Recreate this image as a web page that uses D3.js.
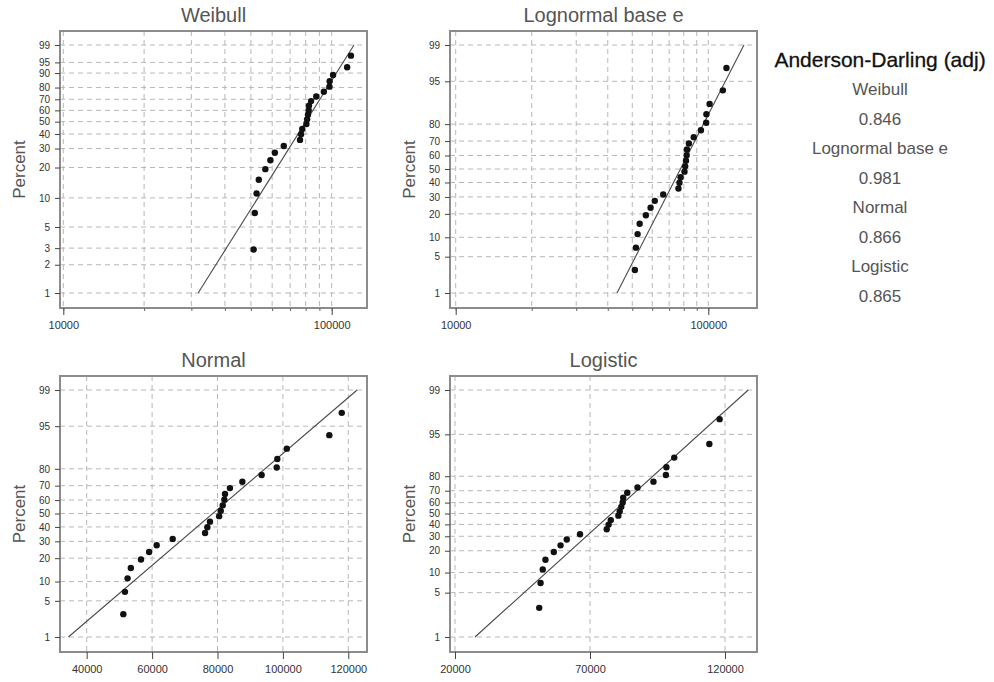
<!DOCTYPE html>
<html>
<head>
<meta charset="utf-8">
<script src="https://cdn.jsdelivr.net/npm/d3@7/dist/d3.min.js"></script>
<style>
  body { margin: 0; background: #fff; }
  text { font-family: "Liberation Sans", Arial, sans-serif; }
</style>
</head>
<body>
<svg id="chart" width="994" height="682"></svg>
<script>
// Sample values and their plotted percents
var incomes = [51200, 51700, 52500, 53500, 56600, 59100, 61400, 66300,
               76200, 76900, 77700, 80500, 81000, 81600, 82100, 82300,
               83800, 87600, 93500, 98100, 98300, 101200, 114200, 118000];
var percents = [2.9, 7.0, 11.1, 15.2, 19.3, 23.4, 27.5, 31.6,
                35.7, 39.8, 43.9, 48.0, 52.0, 56.1, 60.2, 64.3,
                68.4, 72.5, 76.6, 80.7, 84.8, 88.9, 93.0, 97.1];

// Panels and goodness of fit
var panelNames = ["Weibull", "Lognormal base e", "Normal", "Logistic"];
var adValues = ["0.846", "0.981", "0.866", "0.865"];

// Y tick labels (percent)
var weibullYTicks = [1, 2, 3, 5, 10, 20, 30, 40, 50, 60, 70, 80, 90, 95, 99];
var otherYTicks = [1, 5, 10, 20, 30, 40, 50, 60, 70, 80, 95, 99];

// X ticks
var logXTicks = [10000, 100000];
var logXGrid = [10000, 20000, 30000, 40000, 50000, 60000, 70000, 80000, 90000, 100000];
var normalXTicks = [40000, 60000, 80000, 100000, 120000];
var logisticXTicks = [20000, 70000, 120000];

// X domains of each panel
var weibullXDomain = [9720, 135400];
var lognormXDomain = [9494, 155900];
var normalXDomain = [31835, 125720];
var logisticXDomain = [18150, 131850];

// Fitted lines: x at 1 % and x at 99 %
var fitPercents = [1, 99];
var fitLow = [31800, 43500, 34400, 27400];
var fitHigh = [121100, 138400, 122700, 128600];


/////////// Transforms ///////////

// inverse standard normal cdf (Acklam)
function qnorm(p) {
    var a = [-3.969683028665376e+01, 2.209460984245205e+02, -2.759285104469687e+02,
             1.383577518672690e+02, -3.066479806614716e+01, 2.506628277459239e+00];
    var b = [-5.447609879822406e+01, 1.615858368580409e+02, -1.556989798598866e+02,
             6.680131188771972e+01, -1.328068155288572e+01];
    var c = [-7.784894002430293e-03, -3.223964580411365e-01, -2.400758277161838e+00,
             -2.549732539343734e+00, 4.374664141464968e+00, 2.938163982698783e+00];
    var d = [7.784695709041462e-03, 3.224671290700398e-01, 2.445134137142996e+00,
             3.754408661907416e+00];
    var q, r;
    if (p < 0.02425) {
        q = Math.sqrt(-2 * Math.log(p));
        return (((((c[0]*q+c[1])*q+c[2])*q+c[3])*q+c[4])*q+c[5]) /
               ((((d[0]*q+d[1])*q+d[2])*q+d[3])*q+1);
    }
    if (p > 1 - 0.02425) {
        q = Math.sqrt(-2 * Math.log(1 - p));
        return -(((((c[0]*q+c[1])*q+c[2])*q+c[3])*q+c[4])*q+c[5]) /
                ((((d[0]*q+d[1])*q+d[2])*q+d[3])*q+1);
    }
    q = p - 0.5; r = q * q;
    return (((((a[0]*r+a[1])*r+a[2])*r+a[3])*r+a[4])*r+a[5])*q /
           (((((b[0]*r+b[1])*r+b[2])*r+b[3])*r+b[4])*r+1);
}
var weibullT = function(pct) { var p = pct / 100; return Math.log(-Math.log(1 - p)); };
var normalT = function(pct) { return qnorm(pct / 100); };
var logisticT = function(pct) { var p = pct / 100; return Math.log(p / (1 - p)); };


/////////// SVG ///////////
var svg = d3.select("#chart");

var frameW = 307;
var panels = [
    { name: panelNames[0], x: 60,  y: 31,  h: 277, log: true,  xDomain: weibullXDomain,  xTicks: logXTicks, xGrid: logXGrid, yTicks: weibullYTicks, T: weibullT },
    { name: panelNames[1], x: 450, y: 31,  h: 277, log: true,  xDomain: lognormXDomain,  xTicks: logXTicks, xGrid: logXGrid, yTicks: otherYTicks,   T: normalT },
    { name: panelNames[2], x: 60,  y: 376, h: 276, log: false, xDomain: normalXDomain,   xTicks: normalXTicks,   xGrid: normalXTicks,   yTicks: otherYTicks, T: normalT },
    { name: panelNames[3], x: 450, y: 376, h: 276, log: false, xDomain: logisticXDomain, xTicks: logisticXTicks, xGrid: logisticXTicks, yTicks: otherYTicks, T: logisticT }
];

panels.forEach(function(pn, k) {
    var bottom = pn.y + pn.h;
    var xScale = (pn.log ? d3.scaleLog() : d3.scaleLinear())
        .domain(pn.xDomain).range([pn.x, pn.x + frameW]);
    var yScale = d3.scaleLinear()
        .domain([pn.T(1), pn.T(99)]).range([bottom - 15, pn.y + 14]);
    var yPos = function(pct) { return yScale(pn.T(pct)); };

    var g = svg.append("g");

    // gridlines
    g.append("g").selectAll("line").data(pn.yTicks).enter().append("line")
        .attr("x1", pn.x).attr("x2", pn.x + frameW)
        .attr("y1", yPos).attr("y2", yPos)
        .attr("stroke", "#b8b8b8").attr("stroke-dasharray", "5,4");
    g.append("g").selectAll("line").data(pn.xGrid).enter().append("line")
        .attr("x1", d => xScale(d)).attr("x2", d => xScale(d))
        .attr("y1", pn.y).attr("y2", bottom)
        .attr("stroke", "#b8b8b8").attr("stroke-dasharray", "5,4");

    // frame
    g.append("rect")
        .attr("x", pn.x).attr("y", pn.y).attr("width", frameW).attr("height", pn.h)
        .attr("fill", "none").attr("stroke", "#8c8c8c").attr("stroke-width", 2);

    // y axis
    var yAxis = g.append("g").attr("transform", "translate(" + pn.x + ",0)")
        .call(d3.axisLeft(yScale)
            .tickValues(pn.yTicks.map(pn.T))
            .tickFormat((d, i) => pn.yTicks[i])
            .tickSize(5).tickPadding(5));
    yAxis.select(".domain").remove();
    yAxis.selectAll("text").attr("font-size", 10).attr("fill", "#333")
        .style("font-family", "'Liberation Sans', Arial, sans-serif");
    yAxis.selectAll("line").attr("stroke", "#444");

    // x axis
    var xAxis = g.append("g").attr("transform", "translate(0," + bottom + ")")
        .call(d3.axisBottom(xScale)
            .tickValues(pn.xTicks)
            .tickFormat(d3.format("d"))
            .tickSize(7).tickPadding(6));
    xAxis.select(".domain").remove();
    xAxis.selectAll("text").attr("font-size", 11).attr("fill", "#333")
        .style("font-family", "'Liberation Sans', Arial, sans-serif");
    xAxis.selectAll("line").attr("stroke", "#444");

    if (pn.log) {
        var minor = g.append("g").attr("transform", "translate(0," + bottom + ")")
            .call(d3.axisBottom(xScale).tickValues(pn.xGrid).tickFormat("").tickSize(3));
        minor.select(".domain").remove();
        minor.selectAll("line").attr("stroke", "#666");
    }

    // fitted line
    var fitData = [[fitLow[k], fitPercents[0]], [fitHigh[k], fitPercents[1]]];
    g.append("path").datum(fitData)
        .attr("d", d3.line().x(d => xScale(d[0])).y(d => yPos(d[1])))
        .attr("fill", "none").attr("stroke", "#4a4a4a").attr("stroke-width", 1.1);

    // points
    g.append("g").selectAll("circle").data(incomes).enter().append("circle")
        .attr("cx", d => xScale(d))
        .attr("cy", (d, i) => yPos(percents[i]))
        .attr("r", 3.2).attr("fill", "#111");

    // title
    g.append("text")
        .attr("x", pn.x + frameW / 2).attr("y", pn.y - 9)
        .attr("text-anchor", "middle").attr("font-size", 20).attr("fill", "#555")
        .text(pn.name);

    // y label
    g.append("text")
        .attr("transform", "translate(" + (pn.x - 35) + "," + (pn.y + pn.h / 2) + ") rotate(-90)")
        .attr("text-anchor", "middle").attr("font-size", 17).attr("fill", "#555")
        .text("Percent");
});


/////////// Legend ///////////
var legend = svg.append("g").attr("transform", "translate(880,0)");
legend.append("text").attr("x", 0).attr("y", 67)
    .attr("text-anchor", "middle").attr("font-size", 21).attr("fill", "#111")
    .attr("stroke", "#111").attr("stroke-width", 0.3)
    .text("Anderson-Darling (adj)");

panelNames.forEach(function(name, i) {
    legend.append("text").attr("x", 0).attr("y", 95 + i * 59)
        .attr("text-anchor", "middle").attr("font-size", 17).attr("fill", "#555")
        .text(name);
    legend.append("text").attr("x", 0).attr("y", 124.5 + i * 59)
        .attr("text-anchor", "middle").attr("font-size", 17).attr("fill", "#555")
        .text(adValues[i]);
});
</script>
</body>
</html>
